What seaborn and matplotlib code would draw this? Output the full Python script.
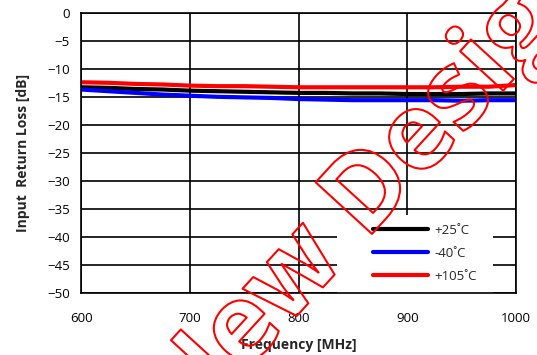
import matplotlib
matplotlib.use("Agg")
import matplotlib.pyplot as plt
import matplotlib.patheffects as pe
from matplotlib.patches import Rectangle
import seaborn as sns
import pandas as pd

freq = [600, 625, 650, 675, 700, 725, 750, 775, 800, 825, 850, 875, 900, 925, 950, 975, 1000]
rl_25 = [-13.3, -13.4, -13.6, -13.7, -13.9, -14.0, -14.1, -14.2, -14.3, -14.3, -14.4, -14.4, -14.5, -14.5, -14.5, -14.4, -14.4]
rl_m40 = [-13.7, -14.0, -14.3, -14.6, -14.8, -15.0, -15.1, -15.2, -15.4, -15.5, -15.6, -15.6, -15.6, -15.6, -15.7, -15.6, -15.6]
rl_105 = [-12.4, -12.5, -12.7, -12.8, -13.0, -13.1, -13.1, -13.2, -13.3, -13.3, -13.3, -13.3, -13.3, -13.3, -13.2, -13.2, -12.9]
labels = ["+25˚C", "-40˚C", "+105˚C"]
colors = ["#000000", "#0000FF", "#FF0000"]

df = pd.concat([
    pd.DataFrame({"Frequency": freq, "RL": v, "Temp": lab})
    for v, lab in zip([rl_25, rl_m40, rl_105], labels)
])

sns.set_theme(style="white")
plt.rcParams['font.family'] = ['Open Sans', 'DejaVu Sans']

fig = plt.figure(figsize=(5.37, 3.55), dpi=100)
ax = fig.add_axes([0.151, 0.175, 0.810, 0.789])

sns.lineplot(data=df, x="Frequency", y="RL", hue="Temp", palette=colors,
             hue_order=labels, linewidth=3, ax=ax, legend=True)

ax.set_xlim(600, 1000)
ax.set_ylim(-50, 0)
ax.set_xticks(range(600, 1001, 100))
ax.set_yticks(range(-50, 1, 5))
ax.grid(True, color="black", linewidth=1.2)
for s in ax.spines.values():
    s.set_color("black")
    s.set_linewidth(1.2)
ax.tick_params(axis="both", length=0, labelsize=9.5, colors="black")
ax.tick_params(axis="x", pad=14)
ax.tick_params(axis="y", pad=8)
ax.set_xlabel("Frequency [MHz]", fontsize=10, fontweight="bold", labelpad=9)
ax.set_ylabel("Input  Return Loss [dB]", fontsize=10, fontweight="bold", labelpad=12)

# white legend background panel
ax.add_patch(Rectangle((0.589, 0.0), 0.359, 0.278, transform=ax.transAxes,
                       facecolor="white", edgecolor="none", zorder=1.6))

leg = ax.legend(loc="upper left", bbox_to_anchor=(0.655, 0.27), frameon=False,
                fontsize=9.5, handlelength=4.2, handletextpad=0.5,
                labelspacing=0.75, borderpad=0.0)
for line in leg.get_lines():
    line.set_linewidth(3)

fig.text(0.70, 0.47, "New Design", fontsize=77, fontweight="bold",
         rotation=47.5, ha="center", va="center", color="none",
         path_effects=[pe.Stroke(linewidth=1.5, foreground="#FF0000")],
         zorder=10)

fig.savefig("out.png", dpi=100)
